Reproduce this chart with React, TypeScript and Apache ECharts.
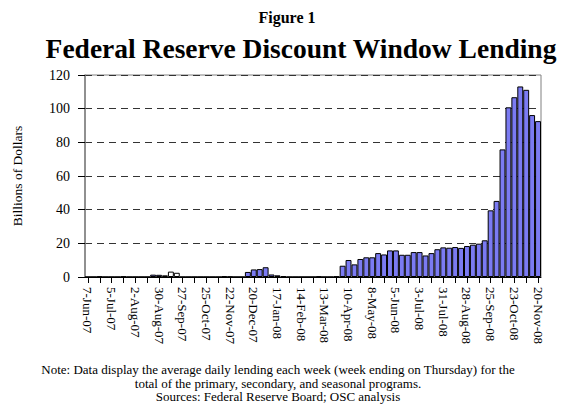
import React, { useEffect, useRef } from "react";
import * as echarts from "echarts";

const weeks: string[] = [
  "7-Jun-07", "14-Jun-07", "21-Jun-07", "28-Jun-07",
  "5-Jul-07", "12-Jul-07", "19-Jul-07", "26-Jul-07",
  "2-Aug-07", "9-Aug-07", "16-Aug-07", "23-Aug-07", "30-Aug-07",
  "6-Sep-07", "13-Sep-07", "20-Sep-07", "27-Sep-07",
  "4-Oct-07", "11-Oct-07", "18-Oct-07", "25-Oct-07",
  "1-Nov-07", "8-Nov-07", "15-Nov-07", "22-Nov-07", "29-Nov-07",
  "6-Dec-07", "13-Dec-07", "20-Dec-07", "27-Dec-07",
  "3-Jan-08", "10-Jan-08", "17-Jan-08", "24-Jan-08", "31-Jan-08",
  "7-Feb-08", "14-Feb-08", "21-Feb-08", "28-Feb-08",
  "6-Mar-08", "13-Mar-08", "20-Mar-08", "27-Mar-08",
  "3-Apr-08", "10-Apr-08", "17-Apr-08", "24-Apr-08",
  "1-May-08", "8-May-08", "15-May-08", "22-May-08", "29-May-08",
  "5-Jun-08", "12-Jun-08", "19-Jun-08", "26-Jun-08",
  "3-Jul-08", "10-Jul-08", "17-Jul-08", "24-Jul-08", "31-Jul-08",
  "7-Aug-08", "14-Aug-08", "21-Aug-08", "28-Aug-08",
  "4-Sep-08", "11-Sep-08", "18-Sep-08", "25-Sep-08",
  "2-Oct-08", "9-Oct-08", "16-Oct-08", "23-Oct-08", "30-Oct-08",
  "6-Nov-08", "13-Nov-08", "20-Nov-08",
];

const lending: number[] = [
  0, 0, 0.3, 0, 0, 0, 0.3, 0, 0, 0, 0, 1.4, 1.3,
  1.0, 3.2, 2.5, 0, 0, 0, 0, 0, 0, 0, 0.4, 0.2, 0, 0,
  3.0, 4.5, 4.7, 5.8, 1.5, 1.0, 0.5, 0, 0, 0, 0, 0, 0.3, 0, 0, 0.3,
  6.7, 10.1, 7.5, 10.7, 11.7, 11.7, 14.2, 13.4, 15.8, 15.8,
  13.2, 13.2, 14.8, 14.8, 12.8, 14.2, 16.5, 17.6, 17.4, 17.8, 17.3,
  18.4, 19.2, 19.8, 21.8, 39.6, 45.2, 75.8, 100.8, 106.8, 113.2, 111.2,
  96.2, 92.6,
];

const hollowWeeks: number[] = [13, 14, 15];

const yTicks = { min: 0, max: 120, interval: 20 };

const FONT = "'Liberation Serif', 'Times New Roman', serif";

export default function App() {
  const ref = useRef<HTMLDivElement>(null);
  useEffect(() => {
    if (!ref.current) return;
    const chart = echarts.init(ref.current, null, { renderer: "svg" });
    chart.setOption({
      animation: false,
      backgroundColor: "#ffffff",
      textStyle: { fontFamily: FONT },
      title: [
        {
          text: "Figure 1",
          left: 282,
          top: 4,
          textAlign: "center",
          textStyle: { fontFamily: FONT, fontSize: 16, fontWeight: "bold", color: "#000" },
        },
        {
          text: "Federal Reserve Discount Window Lending",
          left: 296,
          top: 29,
          textAlign: "center",
          textStyle: { fontFamily: FONT, fontSize: 27.5, fontWeight: "bold", color: "#000" },
        },
        {
          text:
            "Note: Data display the average daily lending each week (week ending on Thursday) for the\ntotal of the primary, secondary, and seasonal programs.\nSources: Federal Reserve Board; OSC analysis",
          left: 273,
          top: 358,
          textAlign: "center",
          textStyle: { fontFamily: FONT, fontSize: 13, fontWeight: "normal", color: "#000", lineHeight: 13.5, align: "center" },
        },
      ],
      grid: {
        left: 85,
        right: 20,
        top: 75,
        bottom: 137,
        show: true,
        borderColor: "#808080",
        borderWidth: 1,
      },
      xAxis: {
        type: "category",
        data: weeks,
        boundaryGap: true,
        axisLine: { show: true, lineStyle: { color: "#000", width: 1 } },
        axisTick: { show: true, alignWithLabel: true, interval: 1, length: 6, lineStyle: { color: "#000" } },
        axisLabel: {
          interval: 3,
          rotate: -90,
          margin: 10,
          fontFamily: FONT,
          fontSize: 13,
          color: "#000",
        },
      },
      yAxis: {
        type: "value",
        min: yTicks.min,
        max: yTicks.max,
        interval: yTicks.interval,
        name: "Billions of Dollars",
        nameLocation: "middle",
        nameGap: 61,
        nameTextStyle: { fontFamily: FONT, fontSize: 13.5, color: "#000" },
        axisLine: { show: true, lineStyle: { color: "#808080", width: 1.5 } },
        axisTick: { show: true, length: 7, inside: false, lineStyle: { color: "#000" } },
        axisLabel: { fontFamily: FONT, fontSize: 14, color: "#000", margin: 15 },
        splitLine: { show: true, lineStyle: { color: "#333", type: [7, 5], width: 1 } },
      },
      series: [
        {
          type: "bar",
          data: lending.map((v, i) =>
            hollowWeeks.includes(i)
              ? { value: v, itemStyle: { color: "#ffffff" } }
              : v
          ),
          barCategoryGap: "0%",
          itemStyle: { color: "#7b7bf2", borderColor: "#000", borderWidth: 1 },
        },
      ],
    });
    return () => chart.dispose();
  }, []);
  return (
    <div
      ref={ref}
      style={{ position: "fixed", left: 0, top: 0, width: 561, height: 414 }}
    />
  );
}
